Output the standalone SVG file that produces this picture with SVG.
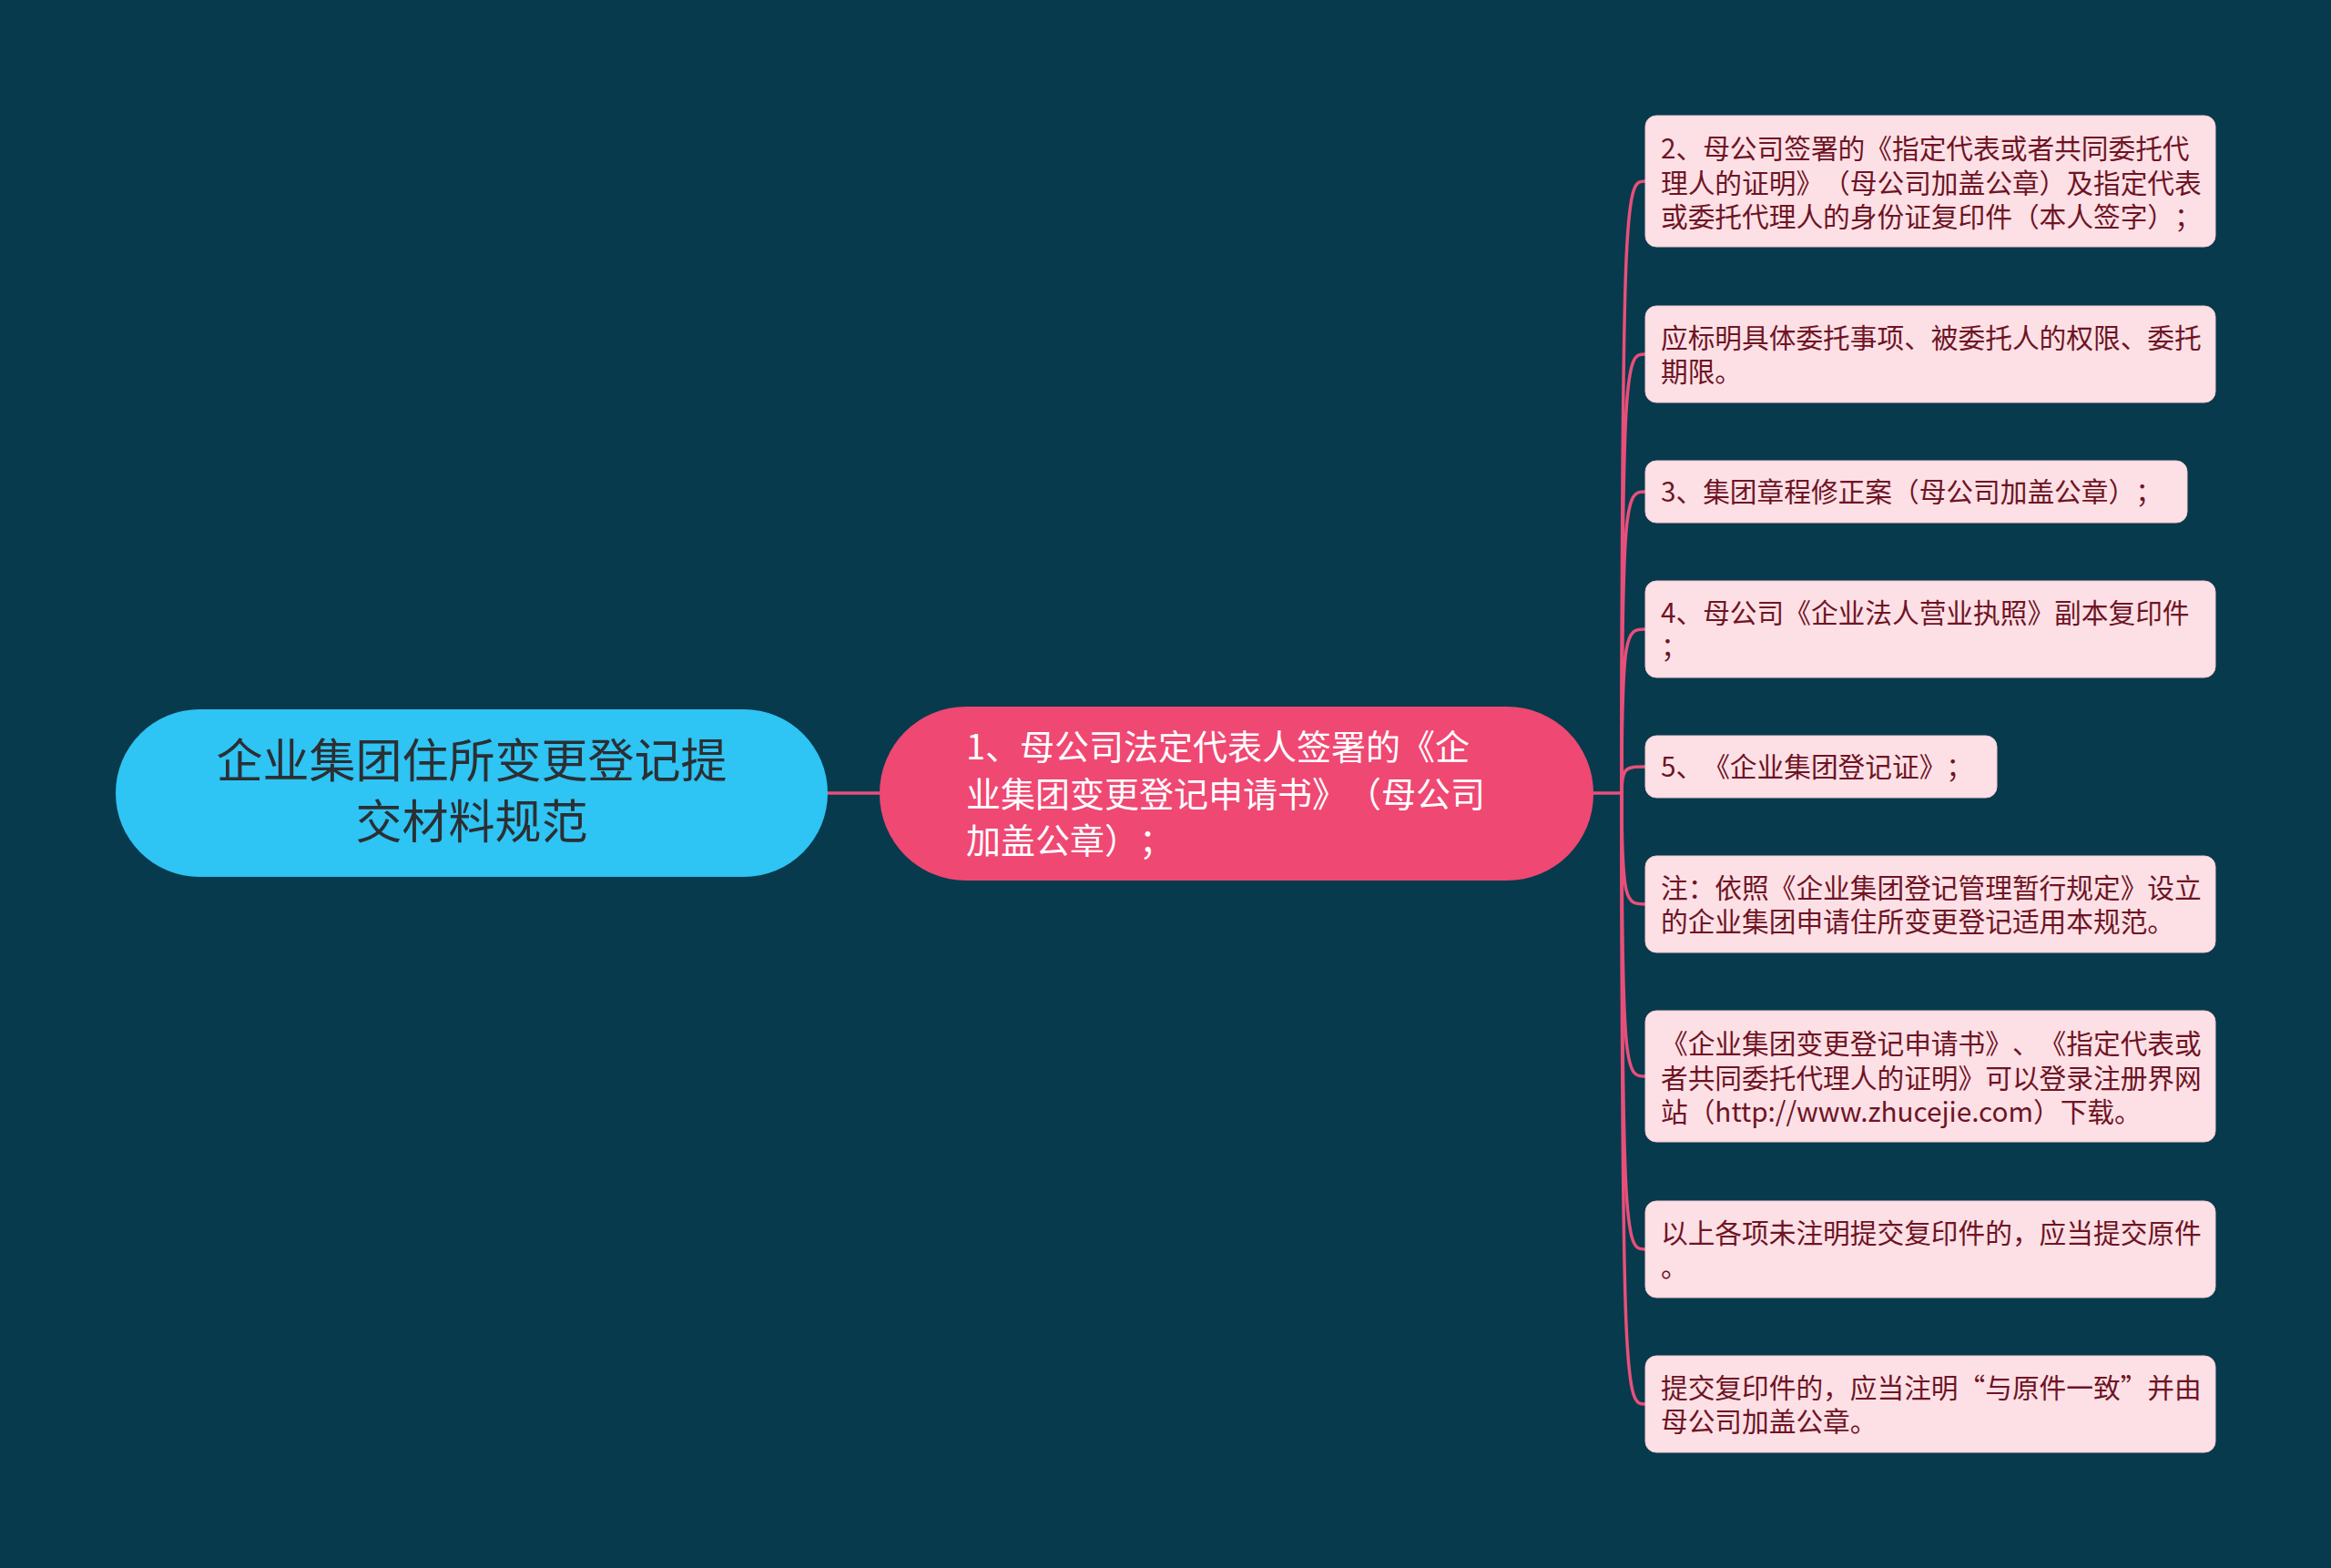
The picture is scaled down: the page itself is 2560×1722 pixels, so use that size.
<svg xmlns="http://www.w3.org/2000/svg" width="2560" height="1722" viewBox="0 0 2560 1722">
<style>
text{text-spacing-trim:space-all;font-feature-settings:normal}
.bg{fill:#073a4c}
.root{fill:#2ec4f4}
.mid{fill:#ef4873}
.leaf{fill:#fde0e6;stroke:#f3c9d2;stroke-width:1}
.rt{font-family:"Noto Sans CJK SC","Noto Sans",sans-serif;font-size:51px;fill:#2b2f33;text-anchor:middle}
.mt{font-family:"Noto Sans CJK SC","Noto Sans",sans-serif;font-size:38px;fill:#ffffff}
.lt{font-family:"Noto Sans CJK SC","Noto Sans",sans-serif;font-size:29.7px;fill:#6e1424}
.conn{fill:none;stroke:#e84f7a;stroke-width:3.5}
</style>
<rect class="bg" x="0" y="0" width="2560" height="1722"/>
<g id="connectors">
<path class="conn" d="M909 871 H966"/>
<path class="conn" d="M1750 871 H1781"/>
<path class="conn" d="M1781 871 C1781 199 1786 199 1807 199"/>
<path class="conn" d="M1781 871 C1781 389 1786 389 1807 389"/>
<path class="conn" d="M1781 871 C1781 540 1786 540 1807 540"/>
<path class="conn" d="M1781 871 C1781 691 1786 691 1807 691"/>
<path class="conn" d="M1781 871 C1781 842 1786 842 1807 842"/>
<path class="conn" d="M1781 871 C1781 993 1786 993 1807 993"/>
<path class="conn" d="M1781 871 C1781 1182 1786 1182 1807 1182"/>
<path class="conn" d="M1781 871 C1781 1372 1786 1372 1807 1372"/>
<path class="conn" d="M1781 871 C1781 1542 1786 1542 1807 1542"/>
</g>
<g id="root">
<rect class="root" x="127" y="779" width="782" height="184" rx="92"/>
<text class="rt" x="518" y="854">企业集团住所变更登记提</text>
<text class="rt" x="518" y="921">交材料规范</text>
</g>
<g id="mid">
<rect class="mid" x="966" y="776" width="784" height="191" rx="95"/>
<text class="mt" x="1061" y="834">1、母公司法定代表人签署的《企</text>
<text class="mt" x="1061" y="886">业集团变更登记申请书》（母公司</text>
<text class="mt" x="1061" y="937">加盖公章）；</text>
</g>
<g id="n1">
<rect class="leaf" x="1807" y="127" width="626" height="144" rx="12"/>
<text class="lt" x="1824" y="174">2、母公司签署的《指定代表或者共同委托代</text>
<text class="lt" x="1824" y="212">理人的证明》（母公司加盖公章）及指定代表</text>
<text class="lt" x="1824" y="249">或委托代理人的身份证复印件（本人签字）；</text>
</g>
<g id="n2">
<rect class="leaf" x="1807" y="336" width="626" height="106" rx="12"/>
<text class="lt" x="1824" y="382">应标明具体委托事项、被委托人的权限、委托</text>
<text class="lt" x="1824" y="419">期限。</text>
</g>
<g id="n3">
<rect class="leaf" x="1807" y="506" width="595" height="68" rx="12"/>
<text class="lt" x="1824" y="551">3、集团章程修正案（母公司加盖公章）；</text>
</g>
<g id="n4">
<rect class="leaf" x="1807" y="638" width="626" height="106" rx="12"/>
<text class="lt" x="1824" y="684">4、母公司《企业法人营业执照》副本复印件</text>
<text class="lt" x="1824" y="721">；</text>
</g>
<g id="n5">
<rect class="leaf" x="1807" y="808" width="386" height="68" rx="12"/>
<text class="lt" x="1824" y="853">5、《企业集团登记证》；</text>
</g>
<g id="n6">
<rect class="leaf" x="1807" y="940" width="626" height="106" rx="12"/>
<text class="lt" x="1824" y="986">注：依照《企业集团登记管理暂行规定》设立</text>
<text class="lt" x="1824" y="1023">的企业集团申请住所变更登记适用本规范。</text>
</g>
<g id="n7">
<rect class="leaf" x="1807" y="1110" width="626" height="144" rx="12"/>
<text class="lt" x="1824" y="1157">《企业集团变更登记申请书》、《指定代表或</text>
<text class="lt" x="1824" y="1195">者共同委托代理人的证明》可以登录注册界网</text>
<text class="lt" x="1824" y="1232">站（http://www.zhucejie.com）下载。</text>
</g>
<g id="n8">
<rect class="leaf" x="1807" y="1319" width="626" height="106" rx="12"/>
<text class="lt" x="1824" y="1365">以上各项未注明提交复印件的，应当提交原件</text>
<text class="lt" x="1824" y="1402">。</text>
</g>
<g id="n9">
<rect class="leaf" x="1807" y="1489" width="626" height="106" rx="12"/>
<text class="lt" x="1824" y="1535">提交复印件的，应当注明“与原件一致”并由</text>
<text class="lt" x="1824" y="1572">母公司加盖公章。</text>
</g>
</svg>
